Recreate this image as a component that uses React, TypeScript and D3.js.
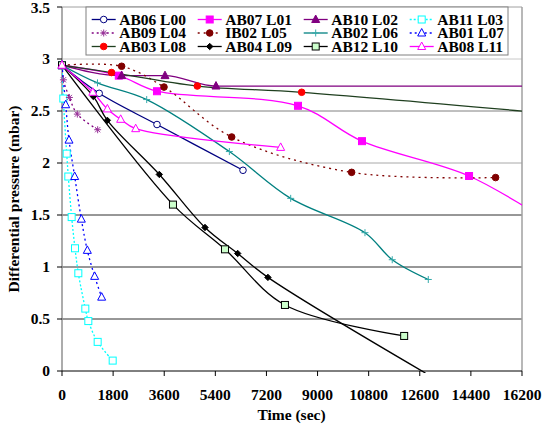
import React from 'react';
import * as d3 from 'd3';

const xTicks = [0, 1800, 3600, 5400, 7200, 9000, 10800, 12600, 14400, 16200];
const yTicks = [0, 0.5, 1, 1.5, 2, 2.5, 3, 3.5];

const ab06T = [0, 1310, 3345, 6374];
const ab06P = [2.94, 2.67, 2.37, 1.93];
const ab07T = [0, 2000, 3345, 8311, 10565, 14335, 17000];
const ab07P = [2.94, 2.84, 2.69, 2.55, 2.21, 1.875, 1.46];
const ab10T = [0, 2100, 3627, 5423, 17000];
const ab10P = [2.94, 2.84, 2.84, 2.74, 2.74];
const ab11T = [0, 46, 165, 222, 340, 458, 575, 821, 927, 1256, 1785];
const ab11P = [2.94, 2.62, 2.09, 1.87, 1.48, 1.18, 0.94, 0.6, 0.48, 0.28, 0.1];
const ab09T = [0, 50, 260, 540, 1256];
const ab09P = [2.94, 2.8, 2.63, 2.47, 2.32];
const ib02T = [0, 2100, 3592, 5976, 10200, 15270];
const ib02P = [2.94, 2.93, 2.73, 2.25, 1.91, 1.86];
const ab02T = [0, 1250, 2983, 5894, 8054, 10670, 11630, 12900];
const ab02P = [2.94, 2.77, 2.61, 2.11, 1.66, 1.33, 1.07, 0.88];
const ab01T = [0, 130, 247, 446, 681, 892, 1150, 1397];
const ab01P = [2.94, 2.56, 2.22, 1.87, 1.46, 1.16, 0.91, 0.71];
const ab03T = [0, 1744, 4765, 8440, 17000];
const ab03P = [2.94, 2.87, 2.74, 2.68, 2.48];
const ab04T = [0, 1103, 1597, 3427, 5036, 6187, 7252, 12800];
const ab04P = [2.94, 2.64, 2.41, 1.89, 1.38, 1.13, 0.9, -0.02];
const ab12T = [0, 3908, 5740, 7852, 12050];
const ab12P = [2.94, 1.6, 1.17, 0.635, 0.337];
const ab08T = [0, 1085, 1597, 2066, 2595, 7700];
const ab08P = [2.94, 2.68, 2.52, 2.42, 2.33, 2.15];

type Series = { name: string; t: number[]; p: number[]; color: string; dash: string; marker: string; mFill: string; mStroke: string; mono?: boolean };

const series: Series[] = [
  { name: 'AB06 L00', t: ab06T, p: ab06P, color: '#000080', dash: '', marker: 'circle', mFill: 'white', mStroke: '#000080' },
  { name: 'AB07 L01', t: ab07T, p: ab07P, color: '#FF00FF', dash: '', marker: 'square', mFill: '#FF00FF', mStroke: '#FF00FF' },
  { name: 'AB10 L02', t: ab10T, p: ab10P, color: '#800080', dash: '', marker: 'triangle', mFill: '#800080', mStroke: '#800080', mono: true },
  { name: 'AB11 L03', t: ab11T, p: ab11P, color: '#00FFFF', dash: '2,2', marker: 'square', mFill: 'white', mStroke: '#00FFFF' },
  { name: 'AB09 L04', t: ab09T, p: ab09P, color: '#800080', dash: '2,3', marker: 'asterisk', mFill: 'none', mStroke: '#993399' },
  { name: 'IB02 L05', t: ib02T, p: ib02P, color: '#800000', dash: '2,4', marker: 'circle', mFill: '#800000', mStroke: '#800000' },
  { name: 'AB02 L06', t: ab02T, p: ab02P, color: '#008080', dash: '', marker: 'plus', mFill: 'none', mStroke: '#33aaaa' },
  { name: 'AB01 L07', t: ab01T, p: ab01P, color: '#0000FF', dash: '2,3', marker: 'triangle', mFill: 'white', mStroke: '#0000FF' },
  { name: 'AB03 L08', t: ab03T, p: ab03P, color: '#1f3f1f', dash: '', marker: 'circle', mFill: '#FF0000', mStroke: '#FF0000' },
  { name: 'AB04 L09', t: ab04T, p: ab04P, color: '#000000', dash: '', marker: 'diamond', mFill: '#000000', mStroke: '#000000' },
  { name: 'AB12 L10', t: ab12T, p: ab12P, color: '#000000', dash: '', marker: 'square', mFill: '#CCFFCC', mStroke: '#000000' },
  { name: 'AB08 L11', t: ab08T, p: ab08P, color: '#FF00FF', dash: '', marker: 'triangle', mFill: 'white', mStroke: '#FF00FF' },
];

const W = 542, H = 427;
const left = 62, right = 522, top = 7, bottom = 371;
const x = d3.scaleLinear().domain([0, 16200]).range([left, right]);
const y = d3.scaleLinear().domain([0, 3.5]).range([bottom, top]);

const gridColor = (v: number) => {
  if (v === 3) return '#c8c8c8';
  if (v === 2.5) return '#808080';
  if (v === 2) return '#a8a8a8';
  return '#303030';
};

function Marker({ kind, cx, cy, fill, stroke }: { kind: string; cx: number; cy: number; fill: string; stroke: string }) {
  switch (kind) {
    case 'circle':
      return <circle cx={cx} cy={cy} r={3.3} fill={fill} stroke={stroke} strokeWidth={1} />;
    case 'square':
      return <rect x={cx - 3.5} y={cy - 3.5} width={7} height={7} fill={fill} stroke={stroke} strokeWidth={1} />;
    case 'triangle':
      return <path d={`M${cx},${cy - 4.5}L${cx + 4},${cy + 3}L${cx - 4},${cy + 3}Z`} fill={fill} stroke={stroke} strokeWidth={1} />;
    case 'diamond':
      return <path d={`M${cx},${cy - 3.2}L${cx + 3.2},${cy}L${cx},${cy + 3.2}L${cx - 3.2},${cy}Z`} fill={fill} stroke={stroke} strokeWidth={1} />;
    case 'plus':
      return <path d={`M${cx - 3.5},${cy}H${cx + 3.5}M${cx},${cy - 3.5}V${cy + 3.5}`} stroke={stroke} strokeWidth={1} fill="none" />;
    case 'asterisk':
      return <path d={`M${cx - 3.5},${cy}H${cx + 3.5}M${cx},${cy - 3.5}V${cy + 3.5}M${cx - 2.6},${cy - 2.6}L${cx + 2.6},${cy + 2.6}M${cx - 2.6},${cy + 2.6}L${cx + 2.6},${cy - 2.6}`} stroke={stroke} strokeWidth={1} fill="none" />;
    default:
      return null;
  }
}

const lineGen = d3.line<[number, number]>()
  .x(d => x(d[0]))
  .y(d => y(d[1]))
  .curve(d3.curveCatmullRom.alpha(0.5));
const monoGen = d3.line<[number, number]>()
  .x(d => x(d[0]))
  .y(d => y(d[1]))
  .curve(d3.curveMonotoneX);

const textStyle: React.CSSProperties = { fontFamily: "'Liberation Serif', 'Times New Roman', Times, serif", fontWeight: 700, fontSize: '15.5px' };

export default function App() {
  const legX = [91.7, 197.7, 303.7, 409.7];
  const legY = [19.5, 33, 46.5];
  return (
    <svg width={W} height={H} style={{ position: 'absolute', left: 0, top: 0, background: 'white' }}>
      <defs>
        <clipPath id="plotClip">
          <rect x={left} y={top} width={right - left} height={bottom - top + 2} />
        </clipPath>
      </defs>
      {yTicks.filter(v => v > 0 && v < 3.5).map(v => (
        <line key={v} x1={left} x2={right} y1={y(v)} y2={y(v)} stroke={gridColor(v)} strokeWidth={1} />
      ))}
      <line x1={left} x2={right} y1={top} y2={top} stroke="#a0a0a0" strokeWidth={1} />
      <line x1={right} x2={right} y1={top} y2={bottom} stroke="#a0a0a0" strokeWidth={1.5} />
      <line x1={left} x2={left} y1={top} y2={bottom} stroke="#909090" strokeWidth={1.5} />
      <line x1={left} x2={right} y1={bottom} y2={bottom} stroke="#000" strokeWidth={1} />
      {yTicks.map(v => (
        <g key={v}>
          <line x1={left - 5} x2={left} y1={y(v)} y2={y(v)} stroke="#000" strokeWidth={1} />
          <text x={50} y={y(v) + (v === 3.5 ? 1 : 0)} dy="0.35em" textAnchor="end" style={textStyle}>{String(v)}</text>
        </g>
      ))}
      {xTicks.map(v => (
        <g key={v}>
          <line x1={x(v)} x2={x(v)} y1={bottom} y2={bottom + 5} stroke="#000" strokeWidth={1} />
          <text x={x(v)} y={399.5} textAnchor="middle" style={textStyle}>{String(v)}</text>
        </g>
      ))}
      <text x={291.5} y={420} textAnchor="middle" style={textStyle}>Time (sec)</text>
      <text transform="translate(19,199) rotate(-90)" textAnchor="middle" style={textStyle}>Differential pressure (mbar)</text>
      <g clipPath="url(#plotClip)">
        {series.map(s => {
          const pts: [number, number][] = s.t.map((t, i) => [t, s.p[i]]);
          const gen = s.mono ? monoGen : lineGen;
          return <path key={s.name} d={gen(pts) || ''} fill="none" stroke={s.color} strokeWidth={1.3} strokeDasharray={s.dash || undefined} />;
        })}
      </g>
      {series.map(s => (
        <g key={s.name + 'm'}>
          {s.t.map((t, i) => (t >= 0 && t <= 16200 && s.p[i] >= 0 && s.p[i] <= 3.5) ? (
            <Marker key={i} kind={s.marker} cx={x(t)} cy={y(s.p[i])} fill={s.mFill} stroke={s.mStroke} />
          ) : null)}
        </g>
      ))}
      <rect x={86} y={7} width={422} height={48} fill="white" stroke="#808080" strokeWidth={1} />
      {series.map((s, i) => {
        const col = i % 4;
        const row = Math.floor(i / 4);
        const lx = legX[col];
        const ly = legY[row];
        return (
          <g key={s.name + 'l'}>
            <line x1={lx} x2={lx + 24} y1={ly} y2={ly} stroke={s.color} strokeWidth={1.3} strokeDasharray={s.dash || undefined} />
            <Marker kind={s.marker} cx={lx + 12} cy={ly} fill={s.mFill} stroke={s.mStroke} />
            <text x={lx + 27.5} y={ly + 5} style={textStyle}>{s.name}</text>
          </g>
        );
      })}
    </svg>
  );
}
